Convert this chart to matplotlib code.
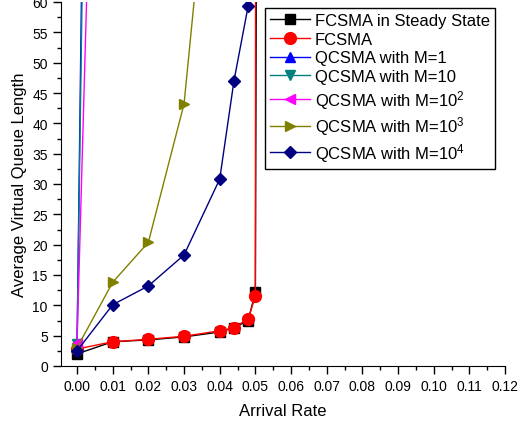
import matplotlib
matplotlib.use("Agg")
import matplotlib.pyplot as plt
from matplotlib.ticker import MultipleLocator

plt.rcParams['font.family'] = ['Liberation Sans', 'DejaVu Sans']
plt.rcParams['mathtext.fontset'] = 'custom'
plt.rcParams['mathtext.rm'] = 'Liberation Sans'
plt.rcParams['mathtext.it'] = 'Liberation Sans'

# Data
x_fss = [0.0, 0.01, 0.02, 0.03, 0.04, 0.044, 0.048, 0.05, 0.051]
y_fss = [2.0, 4.0, 4.3, 4.8, 5.6, 6.3, 7.5, 12.2, 200.0]

x_f = [0.0, 0.01, 0.02, 0.03, 0.04, 0.044, 0.048, 0.05, 0.0502]
y_f = [2.8, 4.0, 4.4, 4.9, 5.8, 6.3, 7.8, 11.5, 200.0]

x_q1 = [0.0, 0.01]
y_q1 = [3.5, 470.0]

x_q10 = [0.0, 0.01]
y_q10 = [3.6, 410.0]

x_q100 = [0.0, 0.01]
y_q100 = [3.8, 215.0]

x_q1000 = [0.0, 0.01, 0.02, 0.03, 0.04]
y_q1000 = [3.0, 13.8, 20.4, 43.2, 103.0]

x_q10000 = [0.0, 0.01, 0.02, 0.03, 0.04, 0.044, 0.048, 0.05]
y_q10000 = [2.5, 10.1, 13.2, 18.3, 30.8, 47.0, 59.4, 90.0]

labels = ["FCSMA in Steady State", "FCSMA", "QCSMA with M=1", "QCSMA with M=10",
          "QCSMA with M=10$^{2}$", "QCSMA with M=10$^{3}$", "QCSMA with M=10$^{4}$"]
xticks = [0.00, 0.01, 0.02, 0.03, 0.04, 0.05, 0.06, 0.07, 0.08, 0.09, 0.10, 0.11, 0.12]
yticks = [0, 5, 10, 15, 20, 25, 30, 35, 40, 45, 50, 55, 60]

fig = plt.figure(figsize=(5.18, 4.27), dpi=100)
ax = fig.add_axes([61/518, 1-367/427, (505-61)/518, (367-3)/427])

series = [
    (x_fss, y_fss, 'black', 's', 7),
    (x_f, y_f, 'red', 'o', 8.5),
    (x_q1, y_q1, 'blue', '^', 7),
    (x_q10, y_q10, '#008080', 'v', 7),
    (x_q100, y_q100, 'magenta', '<', 7),
    (x_q1000, y_q1000, '#808000', '>', 7),
    (x_q10000, y_q10000, '#000080', 'D', 6),
]
for (xs, ys, c, m, ms), lab in zip(series, labels):
    ax.plot(xs, ys, color=c, marker=m, markersize=ms, linewidth=1.0, label=lab,
            markeredgecolor=c, clip_on=True)

ax.set_xlim(-0.0045, 0.12)
ax.set_ylim(0, 60)
ax.set_xticks(xticks)
ax.set_xticklabels([f"{v:.2f}" for v in xticks])
ax.set_yticks(yticks)
ax.set_yticklabels([str(v) for v in yticks])
ax.xaxis.set_minor_locator(MultipleLocator(0.005))
ax.yaxis.set_minor_locator(MultipleLocator(2.5))
ax.tick_params(which='major', direction='out', length=6, width=1, labelsize=10, colors='black')
ax.tick_params(which='minor', direction='out', length=3, width=1)
ax.spines['top'].set_visible(False)
ax.spines['right'].set_visible(False)
ax.set_xlabel("Arrival Rate", fontsize=12, labelpad=7)
ax.set_ylabel("Average Virtual Queue Length", fontsize=12)

leg = fig.legend(loc='upper left', bbox_to_anchor=(265/518, 1-9/427), borderaxespad=0,
                 fontsize=12, frameon=True, fancybox=False, edgecolor='black',
                 handlelength=2.4, labelspacing=0.22, borderpad=0.3, handletextpad=0.3,
                 framealpha=1)
leg.get_frame().set_linewidth(1.0)

fig.savefig("out.png", dpi=100)
